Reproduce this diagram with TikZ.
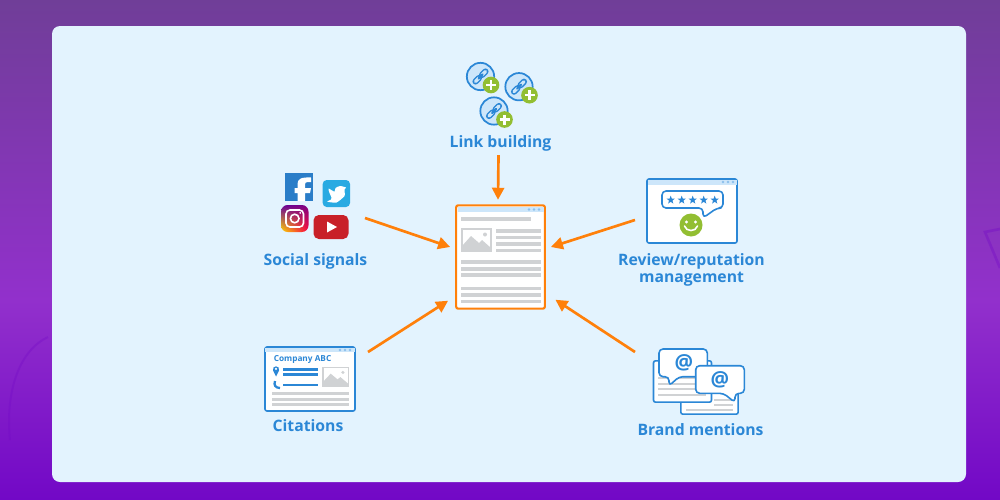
\documentclass[tikz,border=0pt]{standalone}
\usepackage{fontspec}
\setmainfont{Open Sans}
\usetikzlibrary{arrows.meta,shapes.geometric,calc,shadings}
\definecolor{myblue}{RGB}{43,135,214}
\definecolor{myorange}{RGB}{255,128,10}
\definecolor{mypanel}{RGB}{227,243,254}
\definecolor{mygray}{RGB}{208,210,212}
\definecolor{mygreen}{RGB}{146,190,50}
\definecolor{mybar}{RGB}{205,230,250}
\definecolor{myPurpleTop}{RGB}{112,62,152}
\definecolor{myPurpleMid}{RGB}{146,48,204}
\definecolor{myPurpleBot}{RGB}{114,8,198}
\definecolor{myFacebook}{RGB}{42,125,200}
\definecolor{myTwitter}{RGB}{41,170,226}
\definecolor{myYoutube}{RGB}{200,32,40}
\tikzset{
    line/.style   = {-{Triangle[length=9pt,width=9pt]}, line width=2pt, draw=myorange},
    caption/.style = {text=myblue, font=\bfseries\fontsize{11.8}{12.2}\selectfont, align=center, inner sep=0pt},
    window/.style = {draw=myblue, line width=1.2pt, fill=white, rounded corners=1.5pt, inner sep=0pt},
    grayRule/.style = {draw=mygray, line width=2.4pt},
    blueRule/.style = {draw=myblue, line width=2.2pt},
    linkBall/.style = {circle, draw=myblue, line width=1.3pt, fill=mybar, minimum size=20.5pt, inner sep=0pt},
    plusBall/.style = {circle, fill=mygreen, minimum size=12.5pt, inner sep=0pt},
    bubble/.style = {draw=myblue, line width=1.2pt, fill=white, rounded corners=3pt, line join=round},
    atSign/.style = {text=myblue, font=\bfseries\fontsize{15.5}{15.5}\selectfont, inner sep=0pt},
    starMark/.style = {star, star points=5, star point ratio=2.4, fill=myblue, minimum size=6.5pt, inner sep=0pt},
}
% link badge: name, x, y
\newcommand{\linkbadge}[3]{
    \node[linkBall] (#1) at (#2,#3) {};
    \begin{scope}[shift={(#2,#3)}, line cap=round]
        \draw[myblue, line width=4.6pt] (-5,5) -- (-1.5,1.5) (1.5,-1.5) -- (5,-5);
        \draw[mybar, line width=2.4pt] (-5,5) -- (-1.5,1.5) (1.5,-1.5) -- (5,-5);
        \draw[myblue, line width=1.6pt] (-2,2) -- (2,-2);
    \end{scope}
    \node[plusBall] (#1Plus) at (#2+10.5,#3+8.5) {};
    \draw[white, line width=1.8pt] ($(#1Plus)+(-5,0)$) -- ($(#1Plus)+(5,0)$) ($(#1Plus)+(0,-5)$) -- ($(#1Plus)+(0,5)$);
}
% picture placeholder: x, y, width, height
\newcommand{\photoicon}[4]{
    \begin{scope}[shift={(#1,#2)}, xscale=#3/31, yscale=#4/24]
        \draw[mygray, line width=1.2pt, fill=white] (0.8,0.8) rectangle (30.2,23.2);
        \fill[mygray] (1,23) -- (1,18) -- (10,8) -- (18,15) -- (21,12) -- (30,20) -- (30,23) -- cycle;
        \fill[mygray] (24,6.5) circle (2);
    \end{scope}
}
% three dots of a title bar: right x, y
\newcommand{\bardots}[2]{
    \foreach \i in {0,1,2}
        \fill[myblue!40!mybar] (#1-\i*5,#2) circle (1.3);
}
\begin{document}
\begin{tikzpicture}[x=0.75pt,y=-0.75pt]
    \useasboundingbox (0,0) rectangle (1000,500);

    % Background
    \shade[top color=myPurpleTop, bottom color=myPurpleMid] (0,0) rectangle (1000,300.5);
    \shade[top color=myPurpleMid, bottom color=myPurpleBot] (0,300) rectangle (1000,500);
    \draw[myPurpleBot, line width=1.5pt, opacity=.3] (48,337) .. controls (20,350) and (5,390) .. (10,440);
    \draw[myPurpleBot, line width=2pt, opacity=.35] (1000,229) -- (985,232) -- (1000,268);
    \fill[mypanel] (52,26) [rounded corners=6pt] rectangle (966,482);

    % Main page
    \node[window, draw=myorange, line width=1.6pt, minimum width=66.5pt, minimum height=77.5pt] (page) at (500.5,257) {};
    \fill[mybar] (457.5,206.5) rectangle (544,212);
    \bardots{539}{209.5}
    \draw[grayRule, line width=3.4pt] (461,219) -- (531,219);
    \photoicon{461}{228}{31}{24}
    \foreach \y in {231,237.5,244,250.3}
        \draw[grayRule] (496,\y) -- (541,\y);
    \foreach \y in {262,269,275,288.7,295,301.3}
        \draw[grayRule] (461,\y) -- (541,\y);

    % Link building
    \linkbadge{linkA}{480.5}{76.5}
    \linkbadge{linkB}{519}{86.7}
    \linkbadge{linkC}{494}{111}
    \node[caption] (linkCap) at (500.5,143.5) {Link building};

    % Social signals
    \fill[myFacebook] (285,173) rectangle (313,201);
    \fill[white] (297.5,201) -- (297.5,193) -- (294.5,193) -- (294.5,188) -- (297.5,188) -- (297.5,184)
        .. controls (297.5,179) and (301,177) .. (311,177.5) -- (311,182) -- (307.5,182)
        .. controls (305.5,182) and (305,183) .. (305,185) -- (305,188) -- (311,188) -- (310,193) -- (305,193) -- (305,201) -- cycle;
    \fill[myTwitter, rounded corners=3pt] (322.7,180) rectangle (350,207);
    \fill[white] plot[smooth cycle, tension=.35] coordinates {(327.3,201.7) (336.5,202.5) (344.5,196) (344.5,189.5) (346,187.5) (340,186) (335.5,188) (334.5,191.7) (328.5,188.5) (329.5,193) (331.5,197.5) (331,199.5)};
    \shade[rounded corners=5pt, upper left=violet!80!blue, upper right=violet, lower left=yellow!70!orange, lower right=red!75!magenta] (281,205) rectangle (308.5,232);
    \draw[white, line width=1.2pt, rounded corners=3pt] (286,210) rectangle (303.5,227);
    \draw[white, line width=1.2pt] (294.7,218.5) circle (4.3);
    \fill[white] (300.2,212.8) circle (1);
    \fill[myYoutube, rounded corners=4pt] (313.5,215) rectangle (348.5,239);
    \fill[white] (327,221.5) -- (337,227) -- (327,232.5) -- cycle;
    \node[caption] (socialCap) at (315.5,261) {Social signals};

    % Review/reputation management
    \node[window, minimum width=67.5pt, minimum height=48pt] (reviewWin) at (692,211) {};
    \fill[mybar] (647.5,179.5) rectangle (737,184.5);
    \bardots{733}{182}
    \draw[bubble] (703,208) -- (662,208) -- (662,191) -- (723,191) -- (723,208) -- (717,208) -- (703,218) -- cycle;
    \foreach \x [count=\i] in {670.7,681.7,692.7,703.7,714.7}
        \node[starMark] (star\i) at (\x,200) {};
    \fill[mygreen] (691,225) circle (11.5);
    \fill[white] (686.5,222) circle (1.6) (695.5,222) circle (1.6);
    \draw[white, line width=1.2pt, line cap=round] (684.5,226) .. controls (686,232) and (696,232) .. (697.5,226);
    \node[caption] (reviewCap) at (691.5,270) {Review/reputation\\management};

    % Citations
    \node[window, minimum width=67.5pt, minimum height=48pt] (citeWin) at (310,379) {};
    \fill[mybar] (265,347.5) rectangle (354.5,352);
    \bardots{350}{350}
    \node[text=myblue, font=\bfseries\fontsize{6.2}{7}\selectfont, anchor=west, inner sep=0pt] (citeName) at (273.5,359.5) {Company ABC};
    \fill[myblue] (276,376.5) -- (273,370.5) .. controls (271.5,365) and (280.5,365) .. (279,370.5) -- cycle;
    \fill[white] (276,368.8) circle (1.2);
    \draw[myblue, line width=1.7pt] (275,381) .. controls (273.5,385) and (275.5,388) .. (280,388);
    \draw[blueRule] (283,369.5) -- (318,369.5);
    \draw[blueRule] (283,374.5) -- (318,374.5);
    \draw[blueRule] (283,385) -- (318,385);
    \photoicon{322}{367}{27}{20}
    \foreach \y in {393.7,399.2,404.7}
        \draw[grayRule] (272,\y) -- (349,\y);
    \node[caption] (citeCap) at (308,425.5) {Citations};

    % Brand mentions
    \node[window, minimum width=43pt, minimum height=31pt] (brandPageB) at (709.5,393.5) {};
    \node[window, minimum width=43.5pt, minimum height=31pt] (brandPageA) at (682.5,381.5) {};
    \foreach \y in {378,384,389,395}
        \draw[grayRule, line width=1.6pt] (658,\y) -- (706,\y);
    \foreach \y in {400,405}
        \draw[grayRule, line width=1.6pt] (714,\y) -- (733,\y);
    \draw[grayRule, line width=1.6pt] (686,410) -- (733,410);
    \draw[bubble] (669,376.7) -- (659,376.7) -- (659,349) -- (707.3,349) -- (707.3,376.7) -- (679,376.7) -- (669,386) -- cycle;
    \draw[bubble] (723.5,393.3) -- (695.7,393.3) -- (695.7,365.7) -- (744.3,365.7) -- (744.3,393.3) -- (735,393.3) -- (735,402.5) -- cycle;
    \node[atSign] (atA) at (684,363) {@};
    \node[atSign] (atB) at (720,379.5) {@};
    \node[caption] (brandCap) at (700.5,430) {Brand mentions};

    % Arrow ends
    \coordinate (linkTail)   at ($(linkCap.south)+(-2,3.5)$);
    \coordinate (socialTail) at (365,218);
    \coordinate (reviewTail) at (635,220);
    \coordinate (citeTail)   at (368,352);
    \coordinate (brandTail)  at (635,352);
    \coordinate (linkTip)    at ($(page.north)+(-2.5,-4.5)$);
    \coordinate (socialTip)  at ($(page.west)+(-5,-10)$);
    \coordinate (reviewTip)  at ($(page.east)+(5,-10)$);
    \coordinate (citeTip)    at ($(page.south west)+(-7,-9)$);
    \coordinate (brandTip)   at ($(page.south east)+(9.5,-10)$);

    % Arrows
    \draw[line] (linkTail) -- (linkTip);
    \draw[line] (socialTail) -- (socialTip);
    \draw[line] (reviewTail) -- (reviewTip);
    \draw[line] (citeTail) -- (citeTip);
    \draw[line] (brandTail) -- (brandTip);
\end{tikzpicture}
\end{document}
